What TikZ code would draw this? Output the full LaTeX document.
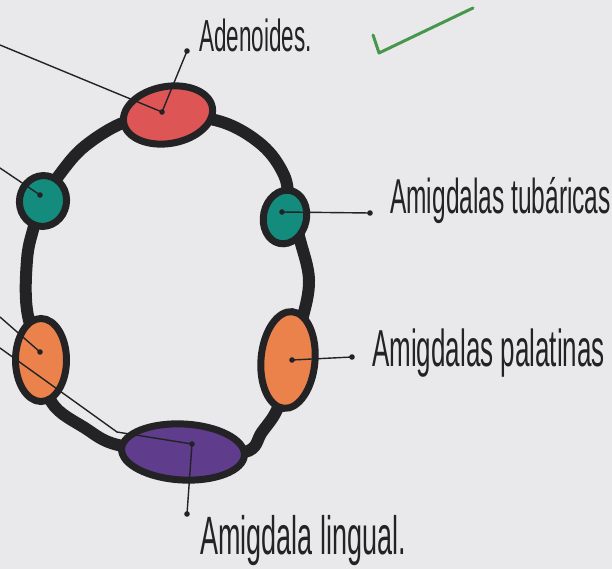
\documentclass[tikz,border=0pt]{standalone}
\usepackage{fontspec}
\setmainfont{Liberation Sans}
\usetikzlibrary{shapes.geometric}
\definecolor{bgcol}{RGB}{233,233,236}
\definecolor{inkcol}{RGB}{35,35,38}
\definecolor{adenred}{RGB}{222,85,85}
\definecolor{tubteal}{RGB}{20,140,125}
\definecolor{palorange}{RGB}{235,130,75}
\definecolor{lingpurple}{RGB}{95,60,140}
\definecolor{checkgreen}{RGB}{70,150,75}
\newcommand{\handtext}[2]{\scalebox{0.5}[1]{\fontsize{#1}{#1}\selectfont #2}}
\tikzset{
  organ/.style={ellipse, draw=inkcol, line width=7pt, inner sep=0pt},
  ringline/.style={draw=inkcol, line width=12pt},
  leader/.style={draw=inkcol, line width=1.4pt},
  lbl/.style={inner sep=0pt, anchor=base west, text=inkcol},
}
\begin{document}
\begin{tikzpicture}[x=1pt,y=-1pt]
\useasboundingbox (0,0) rectangle (612,569);
\fill[bgcol] (0,0) rectangle (612,569);

% ring
\draw[ringline] plot[smooth cycle, tension=0.6] coordinates {
 (168,115) (222,122) (262,145) (284,175) (290,205) (300,240) (309,280) (302,320)
 (288,360) (279,405) (262,432) (245,452) (183,452) (118,445) (85,428) (52,403)
 (41,360) (27,310) (27,260) (33,230) (43,201) (60,174) (85,146) (125,122)};

% organs
\node[organ, fill=adenred, minimum width=90pt, minimum height=57pt, rotate=10] (aden) at (168,115) {};
\node[organ, fill=tubteal, minimum width=47pt, minimum height=51pt, rotate=-10] (tubL) at (43,201) {};
\node[organ, fill=tubteal, minimum width=43pt, minimum height=54pt, rotate=-12] (tubR) at (285,217) {};
\node[organ, fill=palorange, minimum width=51pt, minimum height=83pt] (palL) at (41,360) {};
\node[organ, fill=palorange, minimum width=54pt, minimum height=97pt, rotate=-5] (palR) at (288,360) {};
\node[organ, fill=lingpurple, minimum width=123pt, minimum height=56pt, rotate=-3] (ling) at (183,452) {};

% dot coordinates
\coordinate (adenDot) at (162,112);
\coordinate (adenEnd) at (187,51);
\coordinate (farA) at (0,45);
\coordinate (tubLDot) at (40,195);
\coordinate (farT) at (0,168);
\coordinate (palLDot) at (40,352);
\coordinate (farP1) at (0,317);
\coordinate (farP2) at (0,348);
\coordinate (bendL) at (117,432);
\coordinate (lingDot) at (192,444);
\coordinate (lingEnd) at (187,514);
\coordinate (tubRDot) at (282,212);
\coordinate (tubREnd) at (370,213);
\coordinate (palRDot) at (292,360);
\coordinate (palREnd) at (352,357);

% leaders
\draw[leader] (farA) -- (adenDot);
\draw[leader] (adenDot) -- (adenEnd);
\draw[leader] (farT) -- (tubLDot);
\draw[leader] (farP1) -- (palLDot);
\draw[leader] (farP2) -- (bendL) -- (lingDot);
\draw[leader] (lingDot) -- (lingEnd);
\draw[leader] (tubRDot) -- (tubREnd);
\draw[leader] (palRDot) -- (palREnd);

% dots
\foreach \p in {adenDot,adenEnd,tubLDot,palLDot,lingDot,lingEnd,tubRDot,tubREnd,palRDot,palREnd}
  \fill[inkcol] (\p) circle (2.8pt);

% labels
\node[lbl] (tAden) at (199,52) {\handtext{45}{Adenoides.}};
\node[lbl] (tTub) at (390,214) {\handtext{49}{Amigdalas tubáricas}};
\node[lbl] (tPal) at (372,366) {\handtext{52}{Amigdalas palatinas}};
\node[lbl] (tLing) at (200,554) {\handtext{54}{Amigdala lingual.}};

% check mark
\draw[checkgreen, line width=3pt, line cap=round, line join=round] (373,35) -- (379,53) -- (473,8);
\end{tikzpicture}
\end{document}
